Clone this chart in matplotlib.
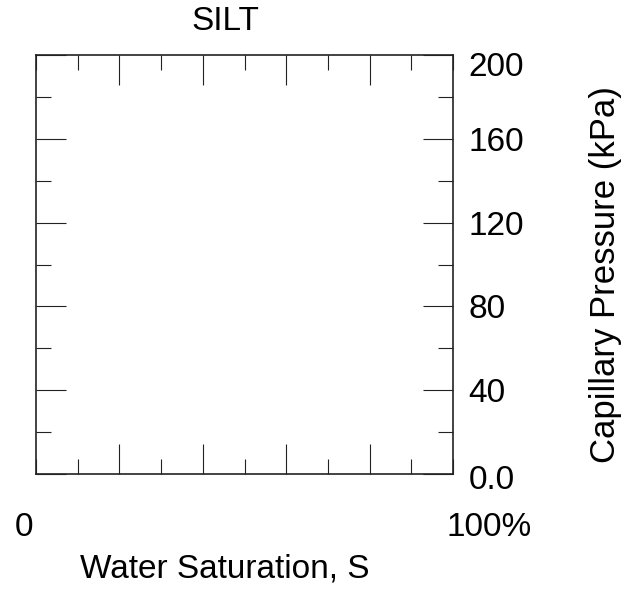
import matplotlib
matplotlib.use("Agg")
import matplotlib.pyplot as plt
from matplotlib.ticker import MultipleLocator
import matplotlib.transforms as mtransforms

plt.rcParams['font.family'] = ['Liberation Sans', 'DejaVu Sans']

title = "SILT"
x_label = "Water Saturation, S"
y_label = "Capillary Pressure (kPa)"
x_limits = [0, 100]
y_limits = [0, 200]
x_major = [20, 40, 60, 80]
x_minor_step = 10
y_major = [0, 40, 80, 120, 160, 200]
y_tick_labels = ["0.0", "40", "80", "120", "160", "200"]
y_minor_step = 20
x_end_values = [0, 100]
x_end_labels = ["0", "100%"]

W, H = 639, 591
fig = plt.figure(figsize=(W / 100, H / 100), dpi=100)
ax = fig.add_axes([36 / W, 1 - 474 / H, (453 - 36) / W, (474 - 55) / H])

ax.set_xlim(*x_limits)
ax.set_ylim(*y_limits)
ax.set_xticks(x_major)
ax.xaxis.set_minor_locator(MultipleLocator(x_minor_step))
ax.set_yticks(y_major)
ax.set_yticklabels(y_tick_labels)
ax.yaxis.set_minor_locator(MultipleLocator(y_minor_step))

for s in ax.spines.values():
    s.set_linewidth(1.2)
    s.set_color('#222222')

ax.tick_params(which='both', direction='in', top=True, bottom=True,
               left=True, right=True, labelleft=False, labelright=True,
               labelbottom=False, labeltop=False, width=0.8, color='#222222')
ax.tick_params(which='major', length=21.6)
ax.tick_params(which='minor', length=10.8)
ax.tick_params(axis='y', which='major', labelsize=24, pad=11)

# small vertical shifts of end labels like reference
shifts = {"200": -9, "0.0": -3}
for lab in ax.get_yticklabels():
    dy = shifts.get(lab.get_text())
    if dy:
        lab.set_transform(lab.get_transform() + mtransforms.ScaledTranslation(0, dy / 100, fig.dpi_scale_trans))

# end labels under x axis
offsets = [-12, 36]
for v, t, dx in zip(x_end_values, x_end_labels, offsets):
    ax.annotate(t, xy=(v, 0), xycoords=('data', 'axes fraction'),
                xytext=(dx * 0.72, -54 * 0.72), textcoords='offset points',
                ha='center', va='center', fontsize=24)

fig.text(225 / W, 1 - 21 / H, title, ha='center', va='center', fontsize=24)
fig.text(225 / W, 1 - 569 / H, x_label, ha='center', va='center', fontsize=24)
fig.text(606 / W, 1 - 275 / H, y_label, ha='center', va='center',
         rotation=90, fontsize=25)

fig.savefig("out.png", dpi=100)
